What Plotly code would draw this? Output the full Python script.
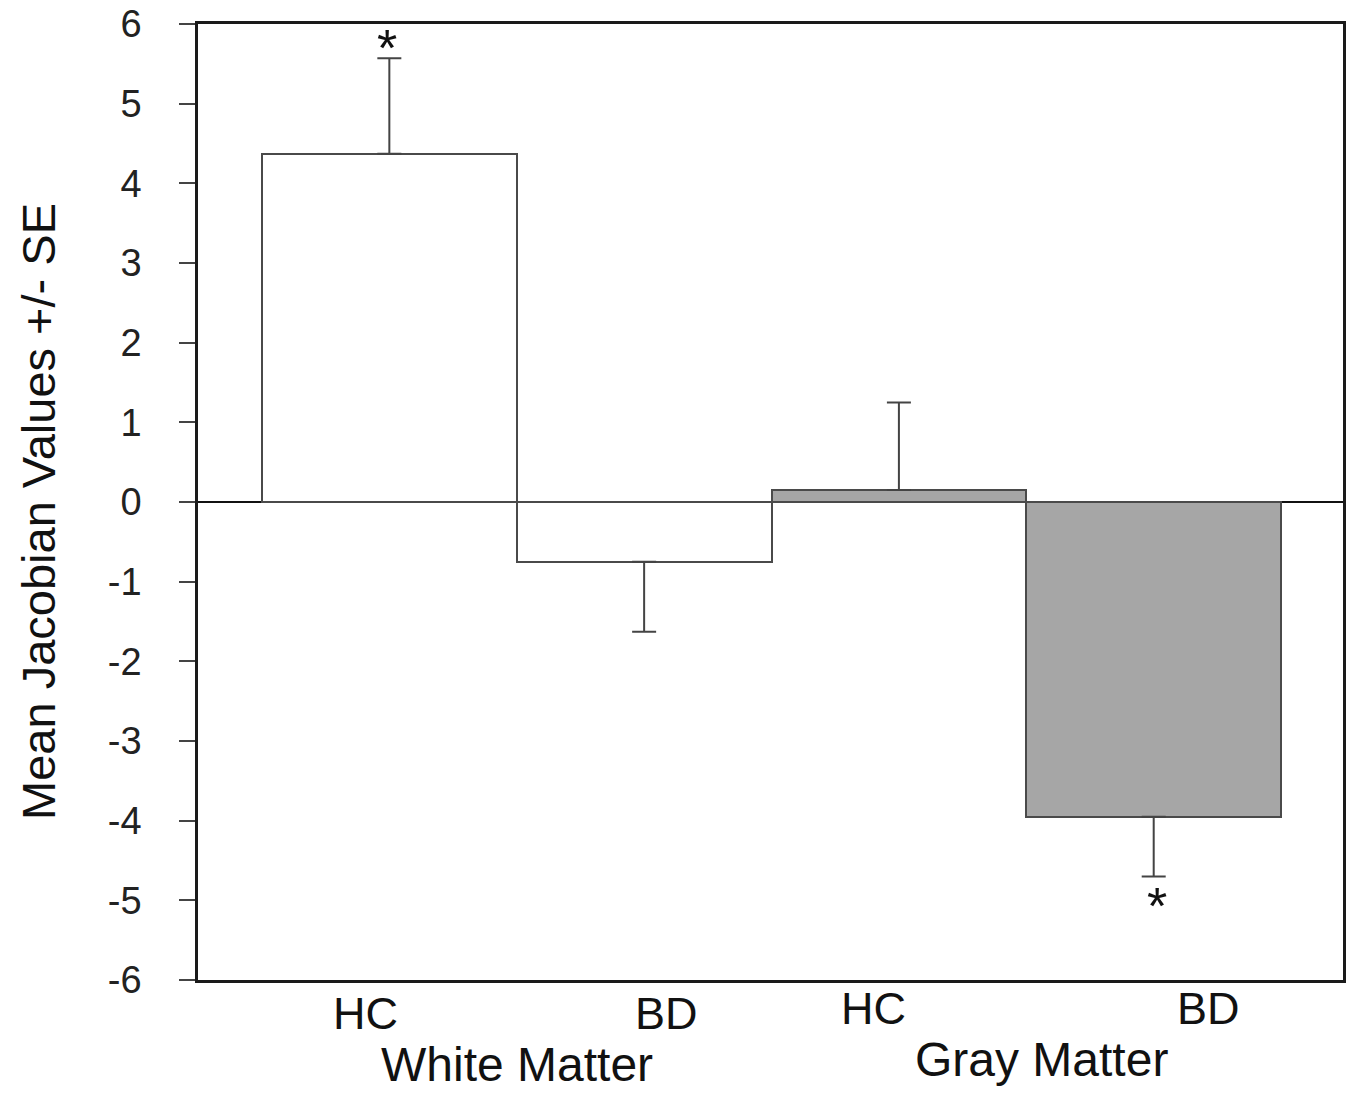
import plotly.graph_objects as go

# ---- data ----
groups = ["White Matter", "White Matter", "Gray Matter", "Gray Matter"]
subjects = ["HC", "BD", "HC", "BD"]
means = [4.37, -0.75, 0.15, -3.95]
se = [1.20, 0.88, 1.10, 0.75]
significant = [True, False, False, True]
y_ticks = [-6, -5, -4, -3, -2, -1, 0, 1, 2, 3, 4, 5, 6]
group_names = ["White Matter", "Gray Matter"]

# ---- styling ----
fill_colors = ["#ffffff", "#ffffff", "#a6a6a6", "#a6a6a6"]
label_xshift = [-24, 22, -25, 55]
label_yshift = [-33, -33, -28, -28]
group_x = [0.5, 2.5]
group_xshift = [0, 15]
group_yshift = [-84, -79]
FONT = "Liberation Sans, Arial, sans-serif"

x = list(range(len(means)))
err_plus = [s if m >= 0 else 0 for m, s in zip(means, se)]
err_minus = [s if m < 0 else 0 for m, s in zip(means, se)]

fig = go.Figure()
fig.add_trace(go.Bar(
    x=x, y=means, width=1,
    marker=dict(color=fill_colors, line=dict(color="#4a4a4a", width=2)),
    error_y=dict(type="data", symmetric=False, array=err_plus, arrayminus=err_minus,
                 color="#444444", thickness=2, width=12),
    showlegend=False, hoverinfo="skip",
))

annotations = []
for i, lab in enumerate(subjects):
    annotations.append(dict(
        x=i, xref="x", y=0, yref="paper", text=lab, showarrow=False,
        xanchor="center", yanchor="middle", xshift=label_xshift[i], yshift=label_yshift[i],
        borderpad=0, font=dict(family=FONT, size=45, color="#111111")))
for gx, gname, xs, ys in zip(group_x, group_names, group_xshift, group_yshift):
    annotations.append(dict(
        x=gx, xref="x", y=0, yref="paper", text=gname, showarrow=False,
        xanchor="center", yanchor="middle", xshift=xs, yshift=ys,
        borderpad=0, font=dict(family=FONT, size=48, color="#111111")))
for i, (m, s, sig) in enumerate(zip(means, se, significant)):
    if sig:
        tip = m + s if m >= 0 else m - s
        annotations.append(dict(
            x=i, xref="x", y=tip, yref="y", text="*", showarrow=False,
            xanchor="center", yanchor="middle", xshift=-2 if m >= 0 else 3,
            yshift=10 if m >= 0 else -30,
            font=dict(family=FONT, size=52, color="#111111")))
annotations.append(dict(
    x=0, xref="paper", y=0.5, yref="paper", text="Mean Jacobian Values +/- SE",
    showarrow=False, textangle=-90, xanchor="center", yanchor="middle",
    xshift=-160, yshift=-10, font=dict(family=FONT, size=47, color="#111111")))

fig.update_layout(
    width=1355, height=1093,
    margin=dict(l=198, r=12, t=24, b=113, autoexpand=False),
    paper_bgcolor="white", plot_bgcolor="white",
    bargap=0,
    annotations=annotations,
    xaxis=dict(range=[-0.751, 3.743], showticklabels=False, ticks="", showgrid=False,
               automargin=False,
               zeroline=False, showline=True, linecolor="#1a1a1a", linewidth=2.5, mirror=True),
    yaxis=dict(range=[-6, 6], tickvals=y_ticks, ticktext=[str(v) for v in y_ticks],
               ticks="outside", ticklen=16, tickwidth=1.5, tickcolor="#444444",
               ticklabelstandoff=30, ticklabeloverflow="allow", automargin=False,
               tickfont=dict(family=FONT, size=38, color="#222222"),
               showgrid=False, zeroline=True, zerolinecolor="#111111", zerolinewidth=2,
               showline=True, linecolor="#1a1a1a", linewidth=2.5, mirror=True),
)

# remove the default page margin so the figure fills the window exactly
fig.write_html(
    "out.html",
    config={"displayModeBar": False},
    post_script="document.body.style.margin='0';document.documentElement.style.overflow='hidden';",
)
